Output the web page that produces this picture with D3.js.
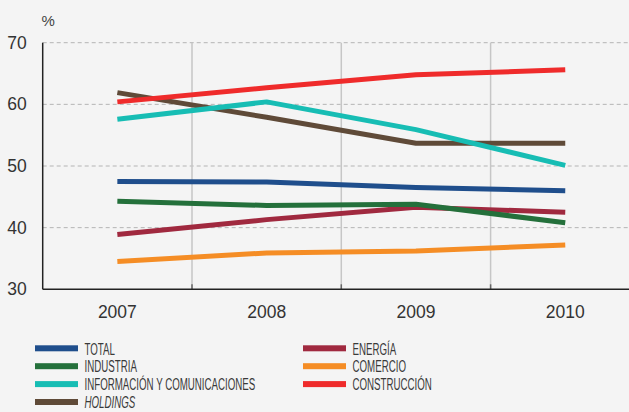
<!DOCTYPE html>
<html><head><meta charset="utf-8">
<script src="https://cdn.jsdelivr.net/npm/d3@7"></script>
<style>
html,body{margin:0;padding:0;background:#f4f4f4;}
svg{display:block;}
</style></head>
<body>
<svg id="c" width="629" height="412"></svg>
<script>
const years = ["2007","2008","2009","2010"];
const yTicks = [30,40,50,60,70];
const seriesNames = ["TOTAL","INDUSTRIA","INFORMACIÓN Y COMUNICACIONES","HOLDINGS","ENERGÍA","COMERCIO","CONSTRUCCIÓN"];
const seriesColors = ["#1f4e8c","#24703b","#17bdb4","#5f4a38","#a0293f","#f58d25","#ef2b2b"];
const total = [47.5,47.4,46.5,46.0];
const industria = [44.3,43.6,43.8,40.8];
const informacion = [57.6,60.4,55.9,50.1];
const holdings = [61.9,57.9,53.7,53.7];
const energia = [38.9,41.3,43.3,42.5];
const comercio = [34.5,35.9,36.2,37.2];
const construccion = [60.4,62.7,64.8,65.6];
const seriesValues = [total,industria,informacion,holdings,energia,comercio,construccion];
const drawOrder = [5,4,1,0,3,2,6];

const svg = d3.select("#c");
const L = 42.7, T = 42.7, B = 289.3, band = 149.3;
const x = d3.scaleBand().domain(years).range([L, L + band*years.length]).paddingInner(0).paddingOuter(0);
const y = d3.scaleLinear().domain([30,70]).range([B, T]);
const font = "'Liberation Sans', Arial, sans-serif";

// horizontal dashed gridlines
svg.append("g").selectAll("line").data(yTicks.filter(t=>t>30)).join("line")
  .attr("x1", L).attr("x2", 629).attr("y1", d=>y(d)).attr("y2", d=>y(d))
  .attr("stroke","#b4b4b4").attr("stroke-width",1).attr("stroke-dasharray","4,3");

// vertical band separators
const seps = years.slice(1).map(yr => x(yr));
svg.append("g").selectAll("line").data(seps).join("line")
  .attr("x1", d=>d).attr("x2", d=>d).attr("y1", T).attr("y2", B)
  .attr("stroke","#c6c6c6").attr("stroke-width",1.5);
svg.append("g").selectAll("line").data(seps).join("line")
  .attr("x1", d=>d).attr("x2", d=>d).attr("y1", B-5).attr("y2", B)
  .attr("stroke","#666").attr("stroke-width",1.5);

// axes lines
svg.append("line").attr("x1",L).attr("x2",L).attr("y1",T).attr("y2",B).attr("stroke","#222").attr("stroke-width",1.5);
svg.append("line").attr("x1",L).attr("x2",629).attr("y1",B).attr("y2",B).attr("stroke","#222").attr("stroke-width",1.5);

// y axis labels
const yAxis = d3.axisLeft(y).tickValues(yTicks).tickSize(0).tickPadding(16);
const gy = svg.append("g").attr("transform",`translate(${L},0)`).call(yAxis);
gy.select(".domain").remove();
gy.selectAll("text").attr("font-family",font).attr("font-size",17.5).attr("fill","#333");

// x axis labels
const xAxis = d3.axisBottom(x).tickSize(0).tickPadding(16);
const gx = svg.append("g").attr("transform",`translate(0,${B})`).call(xAxis);
gx.select(".domain").remove();
gx.selectAll("text").attr("font-family",font).attr("font-size",17.5).attr("fill","#333");

// unit
svg.append("text").attr("x",41.5).attr("y",26).text("%")
  .attr("font-family",font).attr("font-size",15).attr("fill","#444");

// lines
const line = d3.line().x((d,i)=>x(years[i]) + x.bandwidth()/2).y(d=>y(d));
svg.append("g").selectAll("path").data(drawOrder).join("path")
  .attr("d", k=>line(seriesValues[k]))
  .attr("fill","none").attr("stroke", k=>seriesColors[k]).attr("stroke-width",5)
  .attr("stroke-linejoin","round");

// legend
const legPos = [[0,0],[0,1],[0,2],[0,3],[1,0],[1,1],[1,2]];
const lg = svg.append("g");
const items = lg.selectAll("g").data(seriesNames).join("g")
  .attr("transform",(d,i)=>`translate(${legPos[i][0]===0?35:303},${348.3 + legPos[i][1]*17.9})`);
items.append("rect").attr("x",0).attr("y",-3).attr("width",43).attr("height",6)
  .attr("fill",(d,i)=>seriesColors[i]);
const lt = items.append("text").attr("x",0).attr("y",0).text(d=>d)
  .attr("font-family",font).attr("font-size",16.5).attr("fill","#3a3a3a")
  .attr("font-style",d=>d==="HOLDINGS"?"italic":"normal");
// condensed look: compress horizontally to match the narrow typeface
const refNode = lt.filter(d=>d==="INFORMACIÓN Y COMUNICACIONES").node();
const squeeze = 171 / refNode.getComputedTextLength();
lt.attr("transform",`translate(49.5,6.2) scale(${squeeze},1)`);
</script>
</body></html>
